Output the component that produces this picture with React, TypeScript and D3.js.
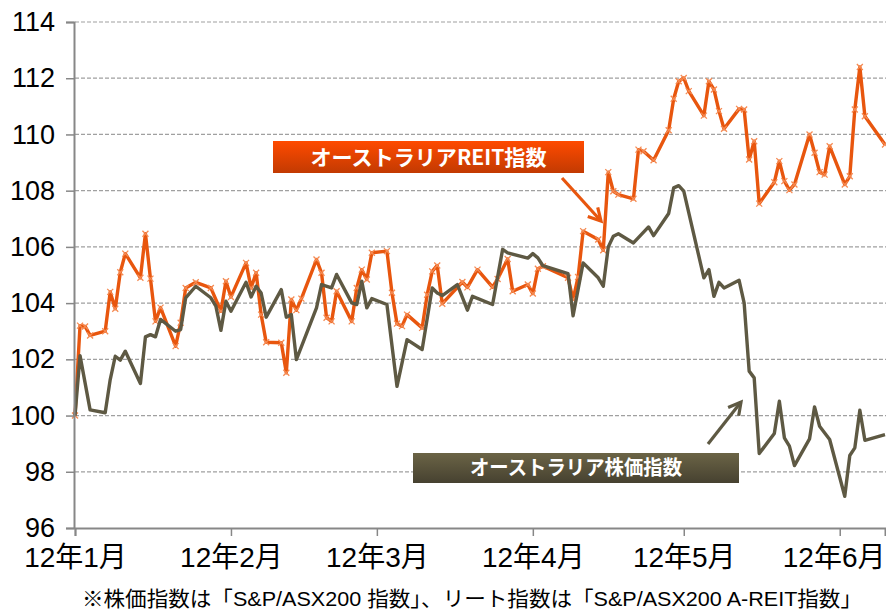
import React from 'react';
import * as d3 from 'd3';

type Pt = [string, number];

// オーストラリアREIT指数 (2012/1/3 = 100)
const reitSeries: Pt[] = [
  ['2012-01-03', 100.0], ['2012-01-04', 103.2], ['2012-01-05', 103.17], ['2012-01-06', 102.85],
  ['2012-01-09', 103.0], ['2012-01-10', 104.4], ['2012-01-11', 103.8], ['2012-01-12', 105.1],
  ['2012-01-13', 105.76], ['2012-01-16', 104.9], ['2012-01-17', 106.47], ['2012-01-18', 104.87],
  ['2012-01-19', 103.35], ['2012-01-20', 103.84], ['2012-01-23', 102.47], ['2012-01-24', 103.3],
  ['2012-01-25', 104.54], ['2012-01-27', 104.74], ['2012-01-30', 104.54], ['2012-02-01', 103.71],
  ['2012-02-02', 104.78], ['2012-02-03', 104.22], ['2012-02-06', 105.43], ['2012-02-07', 104.54],
  ['2012-02-08', 105.08], ['2012-02-09', 103.59], ['2012-02-10', 102.61], ['2012-02-13', 102.59],
  ['2012-02-14', 101.52], ['2012-02-15', 104.13], ['2012-02-16', 103.75], ['2012-02-17', 104.16],
  ['2012-02-20', 105.55], ['2012-02-21', 105.08], ['2012-02-22', 103.48], ['2012-02-23', 103.35],
  ['2012-02-24', 104.42], ['2012-02-27', 103.35], ['2012-02-28', 104.54], ['2012-02-29', 105.19],
  ['2012-03-01', 104.84], ['2012-03-02', 105.79], ['2012-03-05', 105.85], ['2012-03-06', 104.37],
  ['2012-03-07', 103.27], ['2012-03-08', 103.18], ['2012-03-09', 103.59], ['2012-03-12', 103.12],
  ['2012-03-13', 104.3], ['2012-03-14', 105.13], ['2012-03-15', 105.34], ['2012-03-16', 103.98],
  ['2012-03-20', 104.75], ['2012-03-21', 104.56], ['2012-03-23', 105.19], ['2012-03-26', 104.57],
  ['2012-03-27', 104.86], ['2012-03-29', 105.57], ['2012-03-30', 104.42], ['2012-04-02', 104.66],
  ['2012-04-03', 104.34], ['2012-04-04', 105.22], ['2012-04-05', 105.31], ['2012-04-10', 104.9],
  ['2012-04-11', 104.13], ['2012-04-12', 104.93], ['2012-04-13', 106.56], ['2012-04-16', 106.26],
  ['2012-04-17', 105.88], ['2012-04-18', 108.66], ['2012-04-19', 107.98], ['2012-04-20', 107.86],
  ['2012-04-23', 107.71], ['2012-04-24', 109.46], ['2012-04-25', 109.4], ['2012-04-27', 109.08],
  ['2012-04-30', 110.15], ['2012-05-01', 111.27], ['2012-05-02', 111.89], ['2012-05-03', 112.01],
  ['2012-05-04', 111.54], ['2012-05-07', 110.67], ['2012-05-08', 111.89], ['2012-05-09', 111.6],
  ['2012-05-10', 110.83], ['2012-05-11', 110.2], ['2012-05-14', 110.91], ['2012-05-15', 110.89],
  ['2012-05-16', 109.11], ['2012-05-17', 109.76], ['2012-05-18', 107.54], ['2012-05-21', 108.3],
  ['2012-05-22', 109.05], ['2012-05-23', 108.34], ['2012-05-24', 108.02], ['2012-05-25', 108.22],
  ['2012-05-28', 110.0], ['2012-05-29', 109.35], ['2012-05-30', 108.66], ['2012-05-31', 108.57],
  ['2012-06-01', 109.58], ['2012-06-04', 108.22], ['2012-06-05', 108.51], ['2012-06-06', 110.89],
  ['2012-06-07', 112.4], ['2012-06-08', 110.65], ['2012-06-12', 109.64],
];

// オーストラリア株価指数 (2012/1/3 = 100)
const stockSeries: Pt[] = [
  ['2012-01-03', 100.0], ['2012-01-04', 102.13], ['2012-01-06', 100.2], ['2012-01-09', 100.1],
  ['2012-01-10', 101.28], ['2012-01-11', 102.11], ['2012-01-12', 101.97], ['2012-01-13', 102.29],
  ['2012-01-16', 101.14], ['2012-01-17', 102.8], ['2012-01-18', 102.88], ['2012-01-19', 102.8],
  ['2012-01-20', 103.42], ['2012-01-23', 103.0], ['2012-01-24', 103.06], ['2012-01-25', 104.19],
  ['2012-01-27', 104.6], ['2012-01-30', 104.19], ['2012-01-31', 103.89], ['2012-02-01', 103.03],
  ['2012-02-02', 104.07], ['2012-02-03', 103.71], ['2012-02-06', 104.74], ['2012-02-07', 104.22],
  ['2012-02-08', 104.6], ['2012-02-09', 104.36], ['2012-02-10', 103.5], ['2012-02-13', 104.48],
  ['2012-02-14', 103.5], ['2012-02-15', 103.59], ['2012-02-16', 101.99], ['2012-02-20', 103.83],
  ['2012-02-21', 104.66], ['2012-02-23', 104.54], ['2012-02-24', 105.02], ['2012-02-27', 104.01],
  ['2012-02-28', 103.95], ['2012-02-29', 104.78], ['2012-03-01', 103.83], ['2012-03-02', 104.16],
  ['2012-03-05', 103.95], ['2012-03-07', 101.04], ['2012-03-09', 102.7], ['2012-03-12', 102.35],
  ['2012-03-14', 104.54], ['2012-03-15', 104.36], ['2012-03-16', 104.27], ['2012-03-19', 104.66],
  ['2012-03-21', 103.75], ['2012-03-22', 104.24], ['2012-03-26', 103.95], ['2012-03-28', 105.91],
  ['2012-03-29', 105.79], ['2012-04-02', 105.6], ['2012-04-03', 105.76], ['2012-04-04', 105.61],
  ['2012-04-05', 105.33], ['2012-04-10', 105.05], ['2012-04-11', 103.55], ['2012-04-13', 105.43],
  ['2012-04-16', 104.9], ['2012-04-17', 104.6], ['2012-04-18', 106.0], ['2012-04-19', 106.38],
  ['2012-04-20', 106.47], ['2012-04-23', 106.14], ['2012-04-26', 106.71], ['2012-04-27', 106.4],
  ['2012-04-30', 107.19], ['2012-05-01', 108.1], ['2012-05-02', 108.18], ['2012-05-03', 107.98],
  ['2012-05-07', 104.9], ['2012-05-08', 105.19], ['2012-05-09', 104.24], ['2012-05-10', 104.74],
  ['2012-05-11', 104.54], ['2012-05-14', 104.81], ['2012-05-15', 104.01], ['2012-05-16', 101.58],
  ['2012-05-17', 101.34], ['2012-05-18', 98.65], ['2012-05-21', 99.36], ['2012-05-22', 100.51],
  ['2012-05-23', 99.21], ['2012-05-24', 98.91], ['2012-05-25', 98.22], ['2012-05-28', 99.17],
  ['2012-05-29', 100.31], ['2012-05-30', 99.62], ['2012-06-01', 99.15], ['2012-06-04', 97.13],
  ['2012-06-05', 98.58], ['2012-06-06', 98.85], ['2012-06-07', 100.19], ['2012-06-08', 99.12],
  ['2012-06-12', 99.32],
];

const xDomain = ['2012-01-03', '2012-06-12'];
const monthTicks = ['2012-01-03', '2012-02-03', '2012-03-03', '2012-04-03', '2012-05-03', '2012-06-03'];
const monthLabels = ['12年1月', '12年2月', '12年3月', '12年4月', '12年5月', '12年6月'];
const yTicks = [96, 98, 100, 102, 104, 106, 108, 110, 112, 114];

const reitLabel = 'オーストラリアREIT指数';
const stockLabel = 'オーストラリア株価指数';
const note = '※株価指数は「S&P/ASX200 指数」、リート指数は「S&P/ASX200 A-REIT指数」';

const FONT = '"Liberation Sans", Arial, "Noto Sans CJK JP", sans-serif';
const ORANGE = '#E8560E';
const OLIVE = '#5E5943';

export default function App() {
  const svgRef = React.useRef<SVGSVGElement | null>(null);

  React.useEffect(() => {
    if (!svgRef.current) return;
    const svg = d3.select(svgRef.current);
    svg.selectAll('*').remove();

    const width = 886;
    const margin = { top: 22, right: 1, bottom: 83, left: 75 };
    const height = 611;
    const parse = d3.utcParse('%Y-%m-%d');

    const x = d3
      .scaleUtc()
      .domain(xDomain.map(d => parse(d) as Date))
      .range([margin.left, width - margin.right]);
    const y = d3
      .scaleLinear()
      .domain([96, 114])
      .range([height - margin.bottom, margin.top]);

    const defs = svg.append('defs');
    const gOr = defs.append('linearGradient').attr('id', 'gOr').attr('x1', 0).attr('y1', 0).attr('x2', 0).attr('y2', 1);
    gOr.append('stop').attr('offset', '0%').attr('stop-color', '#FF4A00');
    gOr.append('stop').attr('offset', '100%').attr('stop-color', '#C23A02');
    const gOl = defs.append('linearGradient').attr('id', 'gOl').attr('x1', 0).attr('y1', 0).attr('x2', 0).attr('y2', 1);
    gOl.append('stop').attr('offset', '0%').attr('stop-color', '#6B6446');
    gOl.append('stop').attr('offset', '100%').attr('stop-color', '#464130');

    // Grid
    svg.append('g')
      .selectAll('line')
      .data(yTicks.filter(v => v !== 96))
      .join('line')
      .attr('x1', margin.left)
      .attr('x2', width)
      .attr('y1', d => y(d))
      .attr('y2', d => y(d))
      .attr('stroke', '#A0A0A0')
      .attr('stroke-width', 1.2)
      .attr('stroke-dasharray', '4,2');

    // Lines
    const line = d3
      .line<Pt>()
      .x(d => x(parse(d[0]) as Date))
      .y(d => y(d[1]));

    svg.append('path')
      .datum(reitSeries)
      .attr('fill', 'none')
      .attr('stroke', ORANGE)
      .attr('stroke-width', 3.4)
      .attr('stroke-linejoin', 'round')
      .attr('d', line);

    svg.append('g')
      .selectAll('path')
      .data(reitSeries)
      .join('path')
      .attr('transform', d => `translate(${x(parse(d[0]) as Date)},${y(d[1])})`)
      .attr('d', 'M-3,-3L3,3M-3,3L3,-3')
      .attr('stroke', '#F58A52')
      .attr('stroke-width', 1.3)
      .attr('fill', 'none');

    svg.append('path')
      .datum(stockSeries)
      .attr('fill', 'none')
      .attr('stroke', OLIVE)
      .attr('stroke-width', 3.4)
      .attr('stroke-linejoin', 'round')
      .attr('d', line);

    // Axes
    const yAxis = d3.axisLeft(y).tickValues(yTicks).tickSize(8).tickPadding(11).tickFormat(d => String(d));
    svg.append('g')
      .attr('transform', `translate(${margin.left - 1},0)`)
      .call(yAxis as any)
      .call(g => g.select('.domain').attr('stroke', '#878787').attr('stroke-width', 2))
      .call(g => g.selectAll('line').attr('stroke', '#878787').attr('stroke-width', 1.5))
      .call(g => g.selectAll('text').attr('fill', '#000').attr('font-size', 27).attr('font-family', FONT));

    const xAxis = d3
      .axisBottom(x)
      .tickValues(monthTicks.map(d => parse(d) as Date))
      .tickSize(8)
      .tickPadding(11)
      .tickFormat((_d, i) => monthLabels[i]);
    svg.append('g')
      .attr('transform', `translate(0,${height - margin.bottom})`)
      .call(xAxis as any)
      .call(g => g.select('.domain').attr('stroke', '#878787').attr('stroke-width', 2))
      .call(g => g.selectAll('line').attr('stroke', '#878787').attr('stroke-width', 1.5))
      .call(g => g.selectAll('text').attr('fill', '#000').attr('font-size', 28).attr('font-family', FONT))
      .call(g => {
        // keep the last label inside the picture
        g.selectAll<SVGTextElement, Date>('text').each(function (d) {
          const w = this.getComputedTextLength();
          const cx = x(d);
          if (cx + w / 2 > width - 1) d3.select(this).attr('x', width - 1 - w / 2 - cx);
        });
      });

    // Arrows
    const arrow = (x1: number, y1: number, x2: number, y2: number, color: string) => {
      const a = Math.atan2(y2 - y1, x2 - x1);
      const len = 14;
      const spread = 0.5;
      const p1 = [x2 - len * Math.cos(a - spread), y2 - len * Math.sin(a - spread)];
      const p2 = [x2 - len * Math.cos(a + spread), y2 - len * Math.sin(a + spread)];
      svg.append('line')
        .attr('x1', x1).attr('y1', y1).attr('x2', x2).attr('y2', y2)
        .attr('stroke', color).attr('stroke-width', 3.2);
      svg.append('path')
        .attr('d', `M${p1[0]},${p1[1]}L${x2},${y2}L${p2[0]},${p2[1]}`)
        .attr('fill', 'none').attr('stroke', color).attr('stroke-width', 3.2)
        .attr('stroke-linejoin', 'miter');
    };
    arrow(562, 178, 601, 221, ORANGE);
    arrow(708, 444, 741, 402, OLIVE);

    // Labels
    const box = (bx: number, by: number, bw: number, bh: number, fill: string, text: string, fs: number, tl: number) => {
      svg.append('rect')
        .attr('x', bx).attr('y', by).attr('width', bw).attr('height', bh)
        .attr('fill', fill);
      svg.append('text')
        .attr('x', bx + bw / 2)
        .attr('y', by + bh / 2)
        .attr('dy', '0.36em')
        .attr('text-anchor', 'middle')
        .attr('font-family', '"Noto Sans CJK JP", sans-serif')
        .attr('font-weight', 'bold')
        .attr('font-size', fs)
        .attr('fill', '#fff')
        .attr('textLength', tl)
        .attr('lengthAdjust', 'spacingAndGlyphs')
        .text(text);
    };
    box(273, 141, 311, 32, 'url(#gOr)', reitLabel, 21, 236);
    box(413, 453, 326, 30, 'url(#gOl)', stockLabel, 20, 212);

    // Footnote
    svg.append('text')
      .attr('x', 472)
      .attr('y', 606)
      .attr('text-anchor', 'middle')
      .attr('font-family', FONT)
      .attr('font-size', 21)
      .attr('fill', '#000')
      .attr('textLength', 780)
      .attr('lengthAdjust', 'spacingAndGlyphs')
      .text(note);
  }, []);

  return (
    <svg
      ref={svgRef}
      width={886}
      height={611}
      style={{ position: 'absolute', left: 0, top: 0, background: '#fff' }}
    />
  );
}
